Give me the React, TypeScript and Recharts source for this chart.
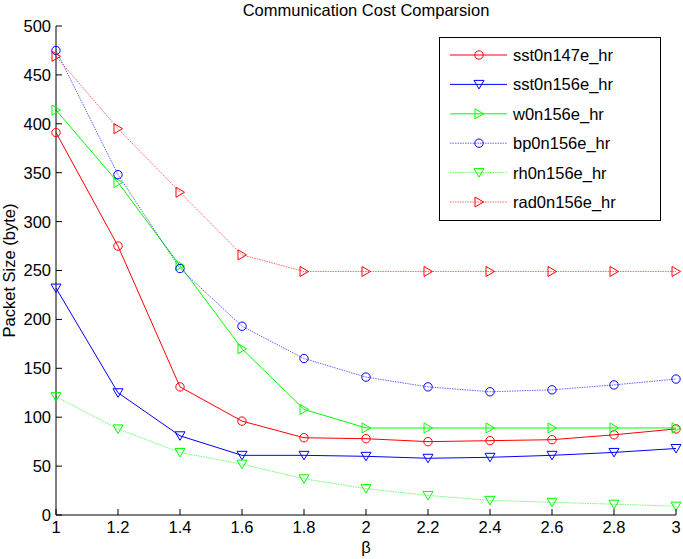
import React from 'react';
import { LineChart, Line, XAxis, YAxis, Legend } from 'recharts';

const betaValues = [1, 1.2, 1.4, 1.6, 1.8, 2.0, 2.2, 2.4, 2.6, 2.8, 3.0];
const xTicks = [1, 1.2, 1.4, 1.6, 1.8, 2, 2.2, 2.4, 2.6, 2.8, 3];
const yTicks = [0, 50, 100, 150, 200, 250, 300, 350, 400, 450, 500];

const sst0n147e_hr = [391, 275, 131, 96, 79, 78, 75, 76, 77, 82, 88];
const sst0n156e_hr = [232, 125, 81, 61, 61, 60, 58, 59, 61, 64, 68];
const w0n156e_hr = [414, 340, 255, 170, 108, 89, 89, 89, 89, 89, 89];
const bp0n156e_hr = [475, 348, 252, 193, 160, 141, 131, 126, 128, 133, 139];
const rh0n156e_hr = [121, 88, 64, 52, 37, 27, 20, 15, 13, 11, 9];
const rad0n156e_hr = [469, 395, 330, 266, 249, 249, 249, 249, 249, 249, 249];

const TITLE = 'Communication Cost Comparsion';
const X_LABEL = 'β';
const Y_LABEL = 'Packet Size (byte)';

const FONT = '"Liberation Sans", Arial, Helvetica, sans-serif';
const FS = 16.5;

type Marker = 'circle' | 'down' | 'right';
const series: { key: string; color: string; dotted: boolean; marker: Marker }[] = [
  { key: 'sst0n147e_hr', color: '#ff0000', dotted: false, marker: 'circle' },
  { key: 'sst0n156e_hr', color: '#0000ff', dotted: false, marker: 'down' },
  { key: 'w0n156e_hr', color: '#00ff00', dotted: false, marker: 'right' },
  { key: 'bp0n156e_hr', color: '#0000ff', dotted: true, marker: 'circle' },
  { key: 'rh0n156e_hr', color: '#00ff00', dotted: true, marker: 'down' },
  { key: 'rad0n156e_hr', color: '#ff0000', dotted: true, marker: 'right' },
];

const data = betaValues.map((b, i) => ({
  beta: b,
  sst0n147e_hr: sst0n147e_hr[i],
  sst0n156e_hr: sst0n156e_hr[i],
  w0n156e_hr: w0n156e_hr[i],
  bp0n156e_hr: bp0n156e_hr[i],
  rh0n156e_hr: rh0n156e_hr[i],
  rad0n156e_hr: rad0n156e_hr[i],
}));

function MarkerShape({ cx, cy, color, marker }: { cx: number; cy: number; color: string; marker: Marker }) {
  if (cx == null || cy == null || isNaN(cx) || isNaN(cy)) return null;
  if (marker === 'circle') {
    return <circle cx={cx} cy={cy} r={4.2} fill="none" stroke={color} strokeWidth={1} />;
  }
  if (marker === 'down') {
    const pts = `${cx - 5},${cy - 4} ${cx + 5},${cy - 4} ${cx},${cy + 4.5}`;
    return <polygon points={pts} fill="none" stroke={color} strokeWidth={1} />;
  }
  const pts = `${cx - 4},${cy - 5} ${cx - 4},${cy + 5} ${cx + 4.5},${cy}`;
  return <polygon points={pts} fill="none" stroke={color} strokeWidth={1} />;
}

const fmtX = (v: number) => String(Math.round(v * 10) / 10);

const BottomTick = (props: any) => {
  const { x, y, payload } = props;
  return (
    <g>
      <line x1={x} y1={y} x2={x} y2={y - 6} stroke="#000" />
      <text x={x} y={y + 18} textAnchor="middle" fontSize={FS} fontFamily={FONT} fill="#000">
        {fmtX(payload.value)}
      </text>
    </g>
  );
};
const TopTick = (props: any) => {
  const { x, y } = props;
  return <line x1={x} y1={y} x2={x} y2={y + 6} stroke="#000" />;
};
const LeftTick = (props: any) => {
  const { x, y, payload } = props;
  return (
    <g>
      <line x1={x} y1={y} x2={x + 6} y2={y} stroke="#000" />
      <text x={x - 5} y={y} dy="0.36em" textAnchor="end" fontSize={FS} fontFamily={FONT} fill="#000">
        {payload.value}
      </text>
    </g>
  );
};
const RightTick = (props: any) => {
  const { x, y } = props;
  return <line x1={x} y1={y} x2={x - 6} y2={y} stroke="#000" />;
};

const LegendBox = () => {
  const w = 222;
  const h = 184;
  return (
    <svg width={w} height={h} style={{ display: 'block' }}>
      <rect x={0.5} y={0.5} width={w - 1} height={h - 1} fill="#fff" stroke="#000" strokeWidth={1} />
      {series.map((s, i) => {
        const y = 18 + i * 29.4;
        return (
          <g key={s.key}>
            <line
              x1={11}
              x2={68}
              y1={y}
              y2={y}
              stroke={s.color}
              strokeWidth={1}
              strokeDasharray={s.dotted ? '1.5 1' : undefined}
              strokeOpacity={s.dotted ? 0.6 : 1}
            />
            <MarkerShape cx={40} cy={y} color={s.color} marker={s.marker} />
            <text x={74} y={y + 6} fontSize={FS} fontFamily={FONT} fill="#000">
              {s.key}
            </text>
          </g>
        );
      })}
    </svg>
  );
};

export default function App() {
  return (
    <div style={{ position: 'absolute', left: 0, top: 0, width: 683, height: 559, background: '#fff' }}>
      <LineChart
        width={683}
        height={559}
        data={data}
        margin={{ top: 26, right: 7, bottom: 0, left: 0 }}
      >
        <XAxis
          xAxisId="b"
          dataKey="beta"
          type="number"
          domain={[1, 3]}
          ticks={xTicks}
          interval={0}
          height={44}
          tickSize={0}
          tickMargin={0}
          tickLine={false}
          axisLine={{ stroke: '#000' }}
          tick={<BottomTick />}
          label={(p: any) => {
            const vb = p.viewBox;
            return (
              <text x={vb.x + vb.width / 2} y={553} textAnchor="middle" fontSize={FS} fontFamily={FONT} fill="#000">
                {X_LABEL}
              </text>
            );
          }}
        />
        <XAxis
          xAxisId="t"
          dataKey="beta"
          type="number"
          orientation="top"
          domain={[1, 3]}
          ticks={xTicks}
          interval={0}
          height={0}
          tickSize={0}
          tickMargin={0}
          tickLine={false}
          axisLine={{ stroke: '#000' }}
          tick={<TopTick />}
        />
        <YAxis
          yAxisId="l"
          type="number"
          domain={[0, 500]}
          ticks={yTicks}
          interval={0}
          width={56}
          tickSize={0}
          tickMargin={0}
          tickLine={false}
          axisLine={{ stroke: '#000' }}
          tick={<LeftTick />}
          label={(p: any) => {
            const vb = p.viewBox;
            const cy = vb.y + vb.height / 2;
            return (
              <text
                x={14.5}
                y={cy}
                textAnchor="middle"
                fontSize={FS}
                fontFamily={FONT}
                fill="#000"
                transform={`rotate(-90, 14.5, ${cy})`}
              >
                {Y_LABEL}
              </text>
            );
          }}
        />
        <YAxis
          yAxisId="r"
          orientation="right"
          type="number"
          domain={[0, 500]}
          ticks={yTicks}
          interval={0}
          width={0}
          tickSize={0}
          tickMargin={0}
          tickLine={false}
          axisLine={{ stroke: '#000' }}
          tick={<RightTick />}
        />
        {series.map((s) => (
          <Line
            key={s.key}
            xAxisId="b"
            yAxisId="l"
            type="linear"
            dataKey={s.key}
            stroke={s.color}
            strokeWidth={1}
            strokeDasharray={s.dotted ? '1.5 1' : undefined}
            strokeOpacity={s.dotted ? 0.6 : 1}
            isAnimationActive={false}
            dot={(p: any) => <MarkerShape key={`${s.key}-${p.index}`} cx={p.cx} cy={p.cy} color={s.color} marker={s.marker} />}
            activeDot={false}
          />
        ))}
        <Legend
          layout="vertical"
          align="center"
          verticalAlign="middle"
          content={() => <LegendBox />}
          wrapperStyle={{ left: 439, top: 37, width: 222, height: 184, right: 'auto', bottom: 'auto' }}
        />
      </LineChart>
      <svg
        width={683}
        height={24}
        style={{ position: 'absolute', left: 0, top: 0, pointerEvents: 'none' }}
      >
        <text x={366} y={16} textAnchor="middle" fontSize={FS} fontFamily={FONT} fill="#000">
          {TITLE}
        </text>
      </svg>
    </div>
  );
}
